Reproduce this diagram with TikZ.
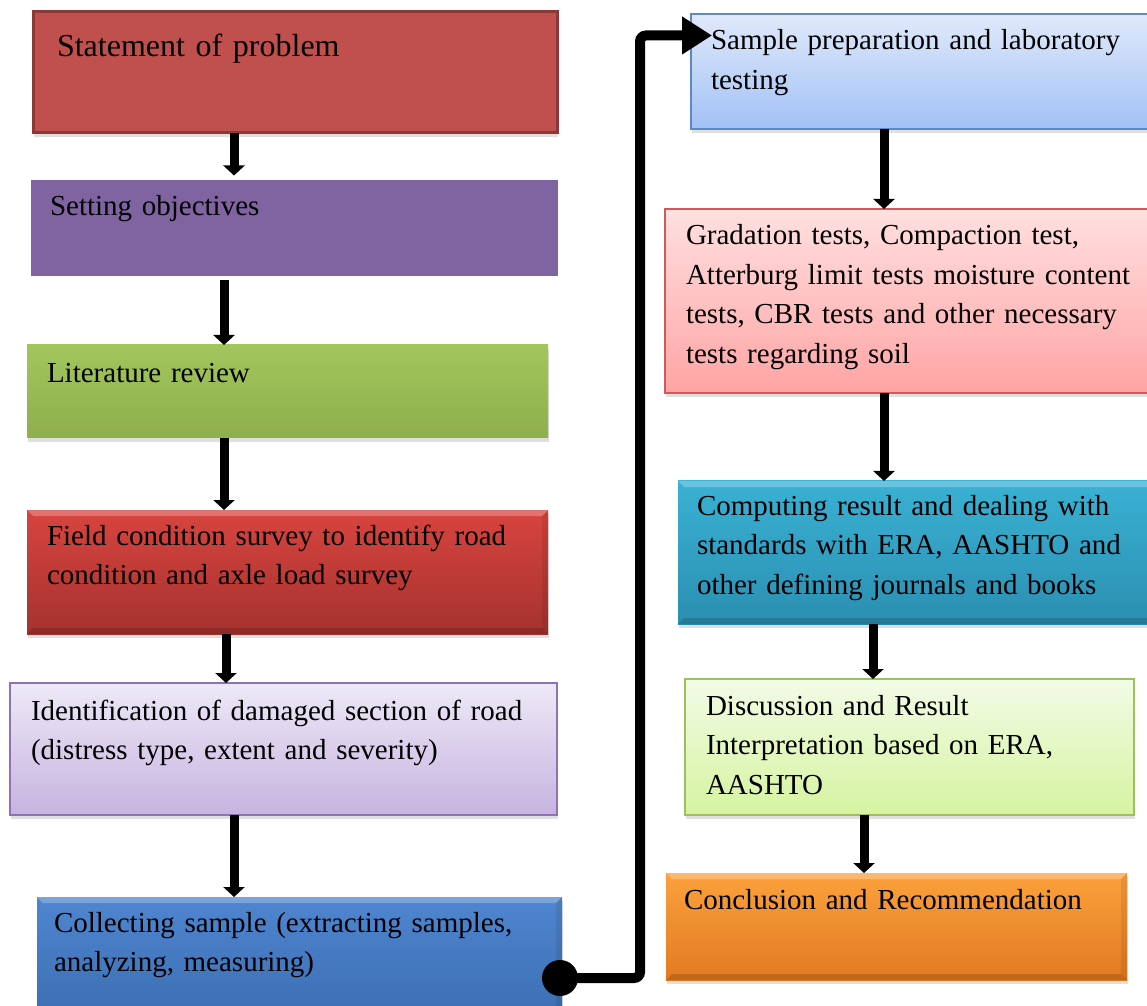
\documentclass[tikz,border=0pt]{standalone}
\usepackage{fontspec}
\setmainfont{Liberation Serif}
\usetikzlibrary{arrows.meta,shadows}

% Box colours
\definecolor{probfill}{HTML}{C0504D}
\definecolor{probline}{HTML}{8C3836}
\definecolor{objfill}{HTML}{8064A2}
\definecolor{littop}{HTML}{A2C65C}
\definecolor{litbot}{HTML}{8EAF4C}
\definecolor{fieldtop}{HTML}{D8443F}
\definecolor{fieldbot}{HTML}{A5322F}
\definecolor{idtop}{HTML}{EEE9F7}
\definecolor{idbot}{HTML}{C6B3E0}
\definecolor{idline}{HTML}{8E72B5}
\definecolor{colltop}{HTML}{4F86D0}
\definecolor{collbot}{HTML}{386AAE}
\definecolor{labtop}{HTML}{E0E9FB}
\definecolor{labbot}{HTML}{A2C1F6}
\definecolor{labline}{HTML}{5B89C8}
\definecolor{gradtop}{HTML}{FFE0E0}
\definecolor{gradbot}{HTML}{FFA3A3}
\definecolor{gradline}{HTML}{D05A5A}
\definecolor{comptop}{HTML}{3AB1D4}
\definecolor{compbot}{HTML}{2B8FB1}
\definecolor{disctop}{HTML}{F2FBE6}
\definecolor{discbot}{HTML}{D5F4A0}
\definecolor{discline}{HTML}{9CC15C}
\definecolor{conctop}{HTML}{FBA13C}
\definecolor{concbot}{HTML}{E27A22}

\tikzset{
  stage/.style={rectangle, anchor=north west, align=left, inner ysep=0pt, inner xsep=20pt,
    outer sep=0pt, font=\fontsize{29}{39.5}\selectfont,
    drop shadow={shadow xshift=1pt, shadow yshift=-4pt, opacity=0.25}},
  bevel/.style={path picture={
    \fill[white, opacity=0.25] (path picture bounding box.north west) -- (path picture bounding box.north east)
      -- ([xshift=-6pt,yshift=-6pt]path picture bounding box.north east) -- ([xshift=6pt,yshift=-6pt]path picture bounding box.north west) -- cycle;
    \fill[black, opacity=0.15] (path picture bounding box.south west) -- (path picture bounding box.south east)
      -- ([xshift=-6pt,yshift=6pt]path picture bounding box.south east) -- ([xshift=6pt,yshift=6pt]path picture bounding box.south west) -- cycle;
    \fill[black, opacity=0.08] (path picture bounding box.north east) -- (path picture bounding box.south east)
      -- ([xshift=-6pt,yshift=6pt]path picture bounding box.south east) -- ([xshift=-6pt,yshift=-6pt]path picture bounding box.north east) -- cycle;}},
  flow/.style={line width=9pt, -{Triangle[width=21pt,length=10pt]}},
  link/.style={line width=10pt, rounded corners=6pt, -{Triangle[width=36pt,length=30pt]}}
}

\begin{document}
\begin{tikzpicture}[x=1pt,y=1pt]
\useasboundingbox (0,0) rectangle (1147,1005);

% Left column
\node[stage, fill=probfill, draw=probline, line width=3pt, inner xsep=24pt,
  text width=476pt, text height=45pt, text depth=76pt,
  font=\fontsize{32}{40}\selectfont] (s1) at (33,993) {Statement of problem};
\node[stage, fill=objfill, draw=white, line width=9pt, inner xsep=23.5pt,
  text width=488.5pt, text height=40.5pt, text depth=64.5pt] (s2) at (26.5,829.5) {Setting objectives};
\node[stage, top color=littop, bottom color=litbot,
  text width=481pt, text height=38pt, text depth=55pt] (s3) at (27,660) {Literature review};
\node[stage, bevel, top color=fieldtop, bottom color=fieldbot,
  text width=481pt, text height=35pt, text depth=89pt] (s4) at (27,495)
  {Field condition survey to identify road\\condition and axle load survey};
\node[stage, top color=idtop, bottom color=idbot, draw=idline, line width=2pt, inner xsep=21pt,
  text width=505pt, text height=37pt, text depth=95pt] (s5) at (10,322)
  {Identification of damaged section of road\\(distress type, extent and severity)};
\node[stage, bevel, top color=colltop, bottom color=collbot, inner xsep=17pt,
  text width=491pt, text height=35pt, text depth=105pt] (s6) at (37,108)
  {Collecting sample (extracting samples,\\analyzing, measuring)};

% Right column
\node[stage, top color=labtop, bottom color=labbot, draw=labline, line width=1.5pt,
  text width=430pt, text height=36pt, text depth=79pt] (s7) at (691,991)
  {Sample preparation and laboratory\\testing};
\node[stage, top color=gradtop, bottom color=gradbot, draw=gradline, line width=1.5pt, inner xsep=21pt,
  text width=470pt, text height=36pt, text depth=148pt] (s8) at (665,796)
  {Gradation tests, Compaction test,\\Atterburg limit tests moisture content\\tests, CBR tests and other necessary\\tests regarding soil};
\node[stage, bevel, top color=comptop, bottom color=compbot, inner xsep=19pt,
  text width=452pt, text height=34pt, text depth=109pt] (s9) at (678,524)
  {Computing result and dealing with\\standards with ERA, AASHTO and\\other defining journals and books};
\node[stage, top color=disctop, bottom color=discbot, draw=discline, line width=2pt, inner xsep=21pt,
  text width=407pt, text height=36pt, text depth=100pt] (s10) at (685,326)
  {Discussion and Result\\Interpretation based on ERA,\\AASHTO};
\node[stage, bevel, top color=conctop, bottom color=concbot, inner xsep=18pt,
  text width=425pt, text height=36pt, text depth=71pt] (s11) at (666,132)
  {Conclusion and Recommendation};

% Flow arrows
\draw[flow] ([xshift=201pt]s1.south west) -- ([xshift=207.5pt]s2.north west);
\draw[flow] ([xshift=197.5pt]s2.south west) -- ([xshift=197pt]s3.north west);
\draw[flow] ([xshift=197pt]s3.south west) -- ([xshift=197pt]s4.north west);
\draw[flow] ([xshift=199pt]s4.south west) -- ([xshift=216pt]s5.north west);
\draw[flow] ([xshift=224pt]s5.south west) -- ([xshift=197pt]s6.north west);
\draw[flow] ([xshift=193pt]s7.south west) -- ([xshift=219pt]s8.north west);
\draw[flow] ([xshift=219pt]s8.south west) -- ([xshift=206pt]s9.north west);
\draw[flow] ([xshift=195pt]s9.south west) -- ([xshift=188pt]s10.north west);
\draw[flow] ([xshift=179pt]s10.south west) -- ([xshift=198pt]s11.north west);

% Link from the left column to the right one
\coordinate (tap) at ([xshift=-2pt]s6.east |- 0,27);
\coordinate (tgt) at ([xshift=21pt,yshift=-21.5pt]s7.north west);
\fill (tap) circle (18pt);
\draw[link] (tap) -| ([xshift=-72pt]tgt) -- (tgt);
\end{tikzpicture}
\end{document}
